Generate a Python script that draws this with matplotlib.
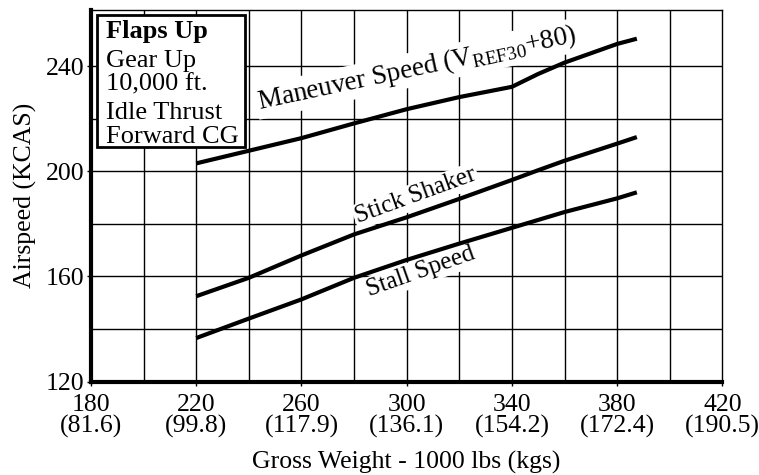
"""Airspeed vs gross weight chart, flaps up."""

import matplotlib

matplotlib.use("Agg")
import matplotlib.pyplot as plt
from matplotlib.patches import Rectangle

plt.rcParams["font.family"] = ["Liberation Serif", "DejaVu Serif"]
plt.rcParams["mathtext.fontset"] = "custom"
plt.rcParams["mathtext.rm"] = "Liberation Serif"

# gross weight, 1000 lbs
weight = [220, 240, 260, 280, 300, 320, 340, 350, 360, 380, 387.5]
maneuver = [203.0, 207.8, 212.6, 218.2, 223.6, 228.2, 232.1, 237.0, 241.3, 248.4, 250.4]
stick_shaker = [152.5, 159.5, 168.0, 176.0, 182.5, 189.5, 196.7, 200.4, 204.0, 210.5, 213.0]
stall = [136.6, 144.0, 151.3, 159.5, 166.3, 172.5, 178.5, 181.5, 184.5, 189.7, 192.0]

x_ticks = [180, 220, 260, 300, 340, 380, 420]
x_tick_kgs = ["(81.6)", "(99.8)", "(117.9)", "(136.1)", "(154.2)", "(172.4)", "(190.5)"]
y_ticks = [120, 160, 200, 240]
conditions = ["Gear Up", "10,000 ft.", "Idle Thrust", "Forward CG"]

FS = 18.5

fig = plt.figure(figsize=(7.59, 4.75), dpi=100)
ax = fig.add_axes([0.1199, 0.1964, 0.8318, 0.7825])

ax.set_xlim(180, 420)
ax.set_ylim(120, 261.3)

# grid every 20 in both directions
for gx in range(200, 420, 20):
    ax.axvline(gx, color="black", linewidth=1.0, zorder=1)
for gy in range(140, 260, 20):
    ax.axhline(gy, color="black", linewidth=1.0, zorder=1)

for series in (maneuver, stick_shaker, stall):
    ax.plot(weight, series, color="black", linewidth=3.0, solid_capstyle="butt", zorder=3)

ax.set_xticks(x_ticks)
ax.set_xticklabels([f"{w}\n{k}" for w, k in zip(x_ticks, x_tick_kgs)], linespacing=0.95)
ax.set_yticks(y_ticks)
ax.tick_params(axis="both", labelsize=FS, length=3, width=1, direction="out", color="black")
ax.tick_params(axis="x", pad=6)
ax.tick_params(axis="y", pad=2)

ax.spines["left"].set_linewidth(3)
ax.spines["bottom"].set_linewidth(3)
ax.spines["right"].set_linewidth(1)
ax.spines["top"].set_linewidth(1)

ax.set_xlabel("Gross Weight - 1000 lbs (kgs)", fontsize=FS, labelpad=9)
ax.set_ylabel("Airspeed (KCAS)", fontsize=FS, labelpad=6)

label_box = dict(facecolor="white", edgecolor="none", pad=1.5)
ax.text(304, 239.0, r"Maneuver Speed (V$_{\rm REF30}$+80)", fontsize=19.5, rotation=12,
        ha="center", va="center", rotation_mode="anchor", bbox=label_box, zorder=2)
ax.text(303.5, 190.6, "Stick Shaker", fontsize=18, rotation=20,
        ha="center", va="center", rotation_mode="anchor", bbox=label_box, zorder=2)
ax.text(305.5, 161.8, "Stall Speed", fontsize=18, rotation=19.5,
        ha="center", va="center", rotation_mode="anchor", bbox=label_box, zorder=2)

# conditions box in the top-left corner
ax.add_patch(Rectangle((0.0095, 0.6314), 0.2345, 0.3552, transform=ax.transAxes,
                       facecolor="white", edgecolor="black", linewidth=2, zorder=4))
ax.text(0.0238, 0.9239, "Flaps Up", transform=ax.transAxes, fontsize=19,
        fontweight="bold", va="baseline", zorder=5)
for line, ypos in zip(conditions, [0.8475, 0.7829, 0.706, 0.6414]):
    ax.text(0.0238, ypos, line, transform=ax.transAxes, fontsize=19, va="baseline", zorder=5)

fig.savefig("out.png", dpi=100)
